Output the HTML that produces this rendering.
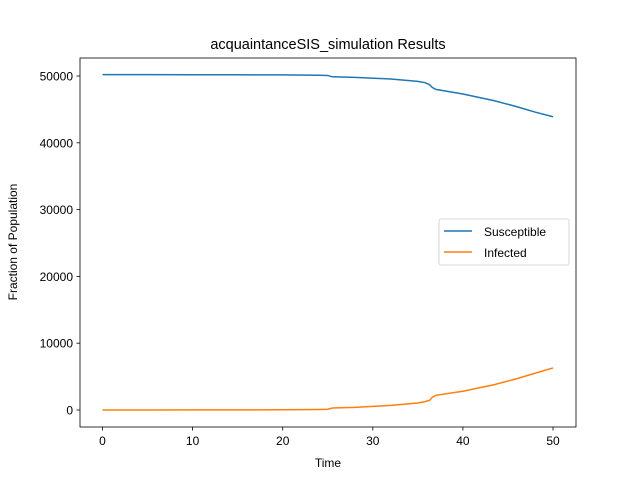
<!DOCTYPE html>
<html><head><meta charset="utf-8"><style>
body{margin:0;background:#fff;}
svg{font-family:"Liberation Sans","DejaVu Sans",sans-serif;}
</style></head><body>
<svg id="chart" width="640" height="480" viewBox="0 0 640 480">
<rect width="640" height="480" fill="#fff"/>
<text x="328" y="49" font-size="14.5" text-anchor="middle">acquaintanceSIS_simulation Results</text>
<g id="plot"></g>
<rect x="80" y="58" width="496" height="369" fill="none" stroke="#000" stroke-width="0.8"/>
<g id="xt"></g><g id="yt"></g>
<text x="328" y="467" font-size="12" text-anchor="middle">Time</text>
<text transform="translate(17,242) rotate(-90)" font-size="12" text-anchor="middle">Fraction of Population</text>
<g>
<rect x="439" y="219" width="130" height="46" rx="2" fill="#fff" stroke="#ccc" stroke-width="0.8"/>
<line x1="444" y1="231" x2="472" y2="231" stroke="#1f77b4" stroke-width="1.5"/>
<text x="484" y="236" font-size="12">Susceptible</text>
<line x1="444" y1="252" x2="472" y2="252" stroke="#ff7f0e" stroke-width="1.5"/>
<text x="484" y="257" font-size="12">Infected</text>
</g>
</svg>
<script>
const times=[0,5,10,15,20,24,25,25.5,28,32,35,35.8,36.3,36.6,37,40,43.5,46,48,50];
const susceptible=[50200,50200,50190,50180,50170,50120,50080,49880,49800,49550,49200,49000,48700,48300,48000,47300,46300,45400,44600,43900];
const infected=[0,0,10,20,30,80,120,300,400,700,1050,1250,1450,1900,2200,2800,3800,4700,5500,6300];
const xTicks=[0,10,20,30,40,50];
const yTicks=[0,10000,20000,30000,40000,50000];
const NS="http://www.w3.org/2000/svg";
const sx=v=>102.5+v*(553-102.5)/50;
const sy=v=>410-v*(410-76)/50000;
const plot=document.getElementById('plot');
function line(vals,color,name){
  const p=document.createElementNS(NS,'path');
  p.setAttribute('d',vals.map((v,i)=>(i?'L':'M')+sx(times[i])+' '+sy(v)).join(''));
  p.setAttribute('fill','none');p.setAttribute('stroke',color);p.setAttribute('stroke-width','1.5');
  
  
  plot.appendChild(p);
}
line(susceptible,'#1f77b4','susceptible-line');
line(infected,'#ff7f0e','infected-line');
const xt=document.getElementById('xt');
xTicks.forEach(t=>{
  const l=document.createElementNS(NS,'line');
  l.setAttribute('x1',sx(t));l.setAttribute('x2',sx(t));l.setAttribute('y1',427);l.setAttribute('y2',430.5);l.setAttribute('stroke','#000');l.setAttribute('stroke-width','0.8');
  
  
  xt.appendChild(l);
  const tx=document.createElementNS(NS,'text');
  tx.setAttribute('x',sx(t));tx.setAttribute('y',445);tx.setAttribute('font-size','12');tx.setAttribute('text-anchor','middle');tx.textContent=t;
  
  
  xt.appendChild(tx);
});
const yt=document.getElementById('yt');
yTicks.forEach(t=>{
  const l=document.createElementNS(NS,'line');
  l.setAttribute('x1',76.5);l.setAttribute('x2',80);l.setAttribute('y1',sy(t));l.setAttribute('y2',sy(t));l.setAttribute('stroke','#000');l.setAttribute('stroke-width','0.8');
  
  
  yt.appendChild(l);
  const tx=document.createElementNS(NS,'text');
  tx.setAttribute('x',73);tx.setAttribute('y',sy(t)+4.5);tx.setAttribute('font-size','12');tx.setAttribute('text-anchor','end');tx.textContent=t;
  
  
  yt.appendChild(tx);
});
</script>
</body></html>
